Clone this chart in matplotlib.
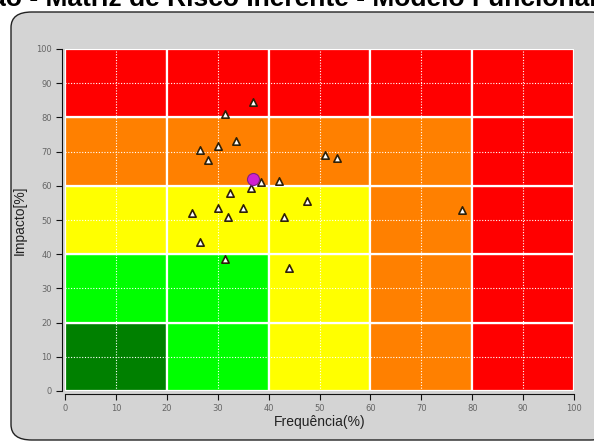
import matplotlib
matplotlib.use("Agg")
import matplotlib.pyplot as plt
from matplotlib.patches import Rectangle, FancyBboxPatch

# risk matrix levels per 20% block (rows = impacto bottom->top, cols = frequencia left->right)
levels = [
    ["darkgreen", "green", "yellow", "orange", "red"],
    ["green", "green", "yellow", "orange", "red"],
    ["yellow", "yellow", "yellow", "orange", "red"],
    ["orange", "orange", "orange", "orange", "red"],
    ["red", "red", "red", "red", "red"],
]
level_colors = {"darkgreen": "#008000", "green": "#00FF00", "yellow": "#FFFF00",
                "orange": "#FF8000", "red": "#FF0000"}

# risks (frequencia %, impacto %)
freq = [31.5, 37.0, 26.5, 30.0, 33.5, 28.0, 51.0, 53.5, 38.5, 36.5, 42.0, 32.5,
        47.5, 25.0, 30.0, 35.0, 32.0, 43.0, 26.5, 31.5, 44.0, 78.0]
impact = [81.0, 84.5, 70.5, 71.5, 73.0, 67.5, 69.0, 68.0, 61.0, 59.5, 61.5, 58.0,
          55.5, 52.0, 53.5, 53.5, 51.0, 51.0, 43.5, 38.5, 36.0, 53.0]
# average point
avg_freq = [37.0]
avg_impact = [62.0]

ticks = list(range(0, 101, 10))

fig = plt.figure(figsize=(5.94, 4.43), dpi=100, facecolor="white")

# gray rounded panel
panel = FancyBboxPatch((11 / 594, 3 / 443), 600 / 594, 428 / 443,
                       boxstyle="round,pad=0,rounding_size=0.035",
                       transform=fig.transFigure, facecolor="#D4D4D4",
                       edgecolor="#222222", linewidth=1.0, zorder=-5)
fig.patches.append(panel)

fig.text(597 / 594, 1 - 6 / 443, "Avaliação - Matriz de Risco Inerente - Modelo Funcional",
         ha="right", va="baseline", fontsize=19, fontweight="bold",
         family="Liberation Sans")

ax = fig.add_axes([65 / 594, 52 / 443, 509 / 594, 342 / 443])
ax.set_facecolor("none")
ax.set_xlim(0, 100)
ax.set_ylim(0, 100)

for r, row in enumerate(levels):
    for c, lev in enumerate(row):
        ax.add_patch(Rectangle((c * 20, r * 20), 20, 20,
                               facecolor=level_colors[lev], edgecolor="white",
                               linewidth=1.6, zorder=1))

for v in [10, 30, 50, 70, 90]:
    ax.axvline(v, color="white", linestyle=(0, (1, 1.5)), linewidth=0.8, zorder=2)
    ax.axhline(v, color="white", linestyle=(0, (1, 1.5)), linewidth=0.8, zorder=2)

ax.scatter(freq, impact, marker="^", s=28, facecolor="white",
           edgecolor="#2e2008", linewidth=1.2, zorder=4)
ax.scatter(avg_freq, avg_impact, marker="o", s=75, facecolor="#D020D0",
           edgecolor="#802080", linewidth=0.8, zorder=5)

for side in ["top", "right"]:
    ax.spines[side].set_visible(False)
ax.spines["left"].set_color("#111111")
ax.spines["bottom"].set_color("#111111")
ax.spines["left"].set_position(("outward", 2))
ax.spines["bottom"].set_position(("outward", 2))

ax.set_xticks(ticks)
ax.set_yticks(ticks)
ax.tick_params(labelsize=6, colors="#111111", labelcolor="#666666", length=4, width=0.8)

ax.set_xlabel("Frequência(%)", fontsize=10, color="#222222", family="Liberation Sans", labelpad=1)
fig.text(20 / 594, 1 - 220 / 443, "Impacto[%]", rotation=90, ha="center", va="center",
         fontsize=10, color="#222222", family="Liberation Sans")

fig.savefig("out.png", dpi=100, facecolor="white")
